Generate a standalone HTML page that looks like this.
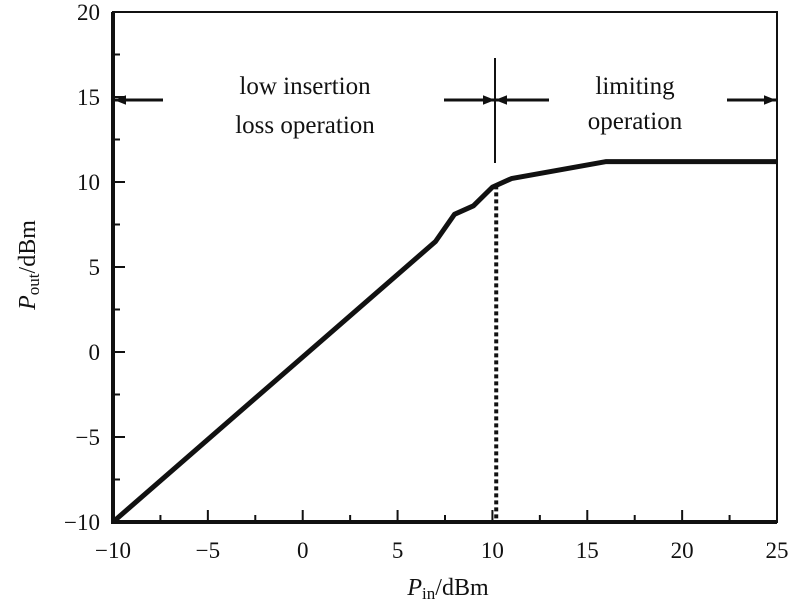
<!DOCTYPE html>
<html><head><meta charset="utf-8"><style>
body{margin:0;background:#fff}
svg text{font-family:"Liberation Serif",serif;fill:#111}
</style></head><body>
<svg id="c" width="795" height="609">
<defs><marker id="ah" viewBox="0 0 10 10" refX="10" refY="5" markerWidth="6" markerHeight="4" orient="auto" markerUnits="strokeWidth"><path d="M0,1 L10,5 L0,9z" fill="#111"/></marker></defs>
</svg>
<script>
const xs=[-10,7,8,9,10,11,16,25];
const ys=[-10,6.5,8.1,8.6,9.7,10.2,11.2,11.2];
const xTicks=[-10,-5,0,5,10,15,20,25];
const yTicks=[-10,-5,0,5,10,15,20];
const knee=10.2;
const L=113,R=777,T=12,B=522;
const X=v=>L+(v+10)*(R-L)/35, Y=v=>B-(v+10)*(B-T)/30;
const s=document.getElementById('c'),NS='http://www.w3.org/2000/svg';
function mk(t,a,p){const e=document.createElementNS(NS,t);for(const k in a)e.setAttribute(k,a[k]);(p||s).appendChild(e);return e;}
let e;
e=mk('rect',{x:L,y:T,width:R-L,height:B-T,fill:'none',stroke:'#111','stroke-width':2});


e=mk('path',{d:`M${L},${T}V${B}H${R}`,fill:'none',stroke:'#111','stroke-width':4});


for(let v=-10;v<=25;v+=2.5){const mj=v%5===0;
e=mk('line',{x1:X(v),x2:X(v),y1:B,y2:B-(mj?12:7),stroke:'#111','stroke-width':2});

}
for(let v=-10;v<=20;v+=2.5){const mj=v%5===0;
e=mk('line',{x1:L,x2:L+(mj?12:7),y1:Y(v),y2:Y(v),stroke:'#111','stroke-width':2});

}
xTicks.forEach(v=>{e=mk('text',{x:X(v),y:558,'font-size':23,'text-anchor':'middle'});e.textContent=v<0?'−'+(-v):v;

});
yTicks.forEach(v=>{e=mk('text',{x:100,y:Y(v)+8,'font-size':23,'text-anchor':'end'});e.textContent=v<0?'−'+(-v):v;

});
e=mk('text',{x:448,y:595,'font-size':24,'text-anchor':'middle'});e.innerHTML='<tspan font-style="italic">P</tspan><tspan font-size="17" dy="4">in</tspan><tspan dy="-4">/dBm</tspan>';


e=mk('text',{x:0,y:0,'font-size':24,'text-anchor':'middle',transform:'translate(35,265) rotate(-90)'});e.innerHTML='<tspan font-style="italic">P</tspan><tspan font-size="17" dy="4">out</tspan><tspan dy="-4">/dBm</tspan>';


e=mk('polyline',{points:xs.map((x,i)=>X(x)+','+Y(ys[i])).join(' '),fill:'none',stroke:'#111','stroke-width':5,'stroke-linejoin':'round'});


let ky=ys[5]+(knee-11)*0; for(let i=0;i<xs.length-1;i++)if(knee>=xs[i]&&knee<=xs[i+1])ky=ys[i]+(knee-xs[i])/(xs[i+1]-xs[i])*(ys[i+1]-ys[i]);
e=mk('line',{x1:X(knee),x2:X(knee),y1:Y(ky),y2:B,stroke:'#111','stroke-width':4,'stroke-dasharray':'4,3'});


const ay=100,vx=495;
e=mk('line',{x1:vx,x2:vx,y1:58,y2:163,stroke:'#111','stroke-width':2});


[[163,L+1],[444,vx],[549,vx],[727,R-1]].forEach(([a,b])=>{e=mk('line',{x1:a,x2:b,y1:ay,y2:ay,stroke:'#111','stroke-width':3,'marker-end':'url(#ah)'});

});
[['low insertion',305,94],['loss operation',305,133],['limiting',635,94],['operation',635,129]].forEach(([t,x,y])=>{e=mk('text',{x:x,y:y,'font-size':25,'text-anchor':'middle'});e.textContent=t;

});
</script>
</body></html>
